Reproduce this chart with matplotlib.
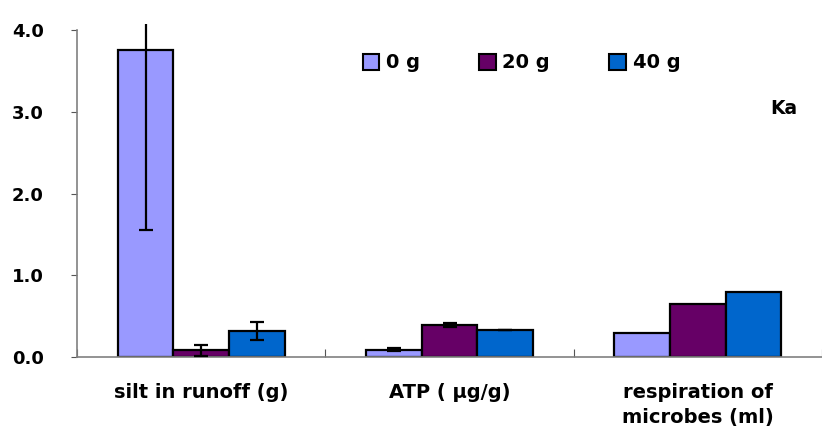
import matplotlib
matplotlib.use('Agg')
import matplotlib.pyplot as plt
import numpy as np
from matplotlib.patches import Patch

plt.rcParams['font.family'] = ['DejaVu Sans', 'Noto Sans CJK JP']
plt.rcParams['font.weight'] = 'bold'

categories = ['silt in runoff (g)', 'ATP ( μg/g)', 'respiration of\nmicrobes (ml)']
series_names = ['0 g', '20 g', '40 g']
vals_0g = [3.75, 0.09, 0.29]
vals_20g = [0.08, 0.39, 0.645]
vals_40g = [0.32, 0.33, 0.795]
err_0g = [2.2, 0.015, 0.0]
err_20g = [0.065, 0.025, 0.0]
err_40g = [0.11, 0.004, 0.0]

colors = ['#9999FF', '#660066', '#0066CC']

fig = plt.figure(figsize=(8.22, 4.33), dpi=100)
ax = fig.add_axes([77/822, 76/433, 745/822, 333.5/433])

x = np.arange(len(categories))
w = 0.224
series = [(vals_0g, err_0g), (vals_20g, err_20g), (vals_40g, err_40g)]
for i, (v, e) in enumerate(series):
    pos = x + (i - 1) * w
    ax.bar(pos, v, width=w, color=colors[i], edgecolor='black', linewidth=1.6, zorder=2)
    for p, vv, ee in zip(pos, v, e):
        if ee > 0:
            ax.errorbar(p, vv, yerr=ee, fmt='none', ecolor='black', elinewidth=1.6,
                        capsize=5, capthick=1.6, zorder=3)

ax.set_xlim(-0.5, 2.476)
ax.set_ylim(0, 4.08)
ax.set_yticks([0, 1, 2, 3, 4])
ax.set_yticklabels(['0.0', '1.0', '2.0', '3.0', '4.0'], fontsize=13, fontweight='bold')
ax.set_xticks([-0.5, 0.5, 1.5, 2.5])
ax.set_xticklabels([])
ax.set_xticks(x, minor=True)
ax.set_xticklabels(categories, minor=True, fontsize=14, fontweight='bold', linespacing=1.4)
ax.tick_params(axis='x', which='major', direction='in', length=6, color='#555555')
ax.tick_params(axis='x', which='minor', length=0, pad=19)
ax.tick_params(axis='y', direction='out', length=4, color='#555555', pad=20)

for s in ['top', 'right']:
    ax.spines[s].set_visible(False)
ax.spines['left'].set_bounds(0, 4)
ax.spines['left'].set_color('#808080')
ax.spines['bottom'].set_color('#808080')
ax.spines['left'].set_linewidth(1.2)
ax.spines['bottom'].set_linewidth(1.2)

handles = [Patch(facecolor=c, edgecolor='black', linewidth=1.5) for c in colors]
fig.legend(handles, series_names, loc='center left', bbox_to_anchor=(345/822, 1 - 63/433),
           ncol=3, frameon=False, handlelength=0.85, handleheight=0.85, handletextpad=0.35,
           columnspacing=3.05, prop={'size': 14, 'weight': 'bold'})

fig.text(770/822, 1 - 108/433, 'Ka', fontsize=13.5, fontweight='bold', va='center', ha='left')

fig.savefig('out.png', dpi=100)
